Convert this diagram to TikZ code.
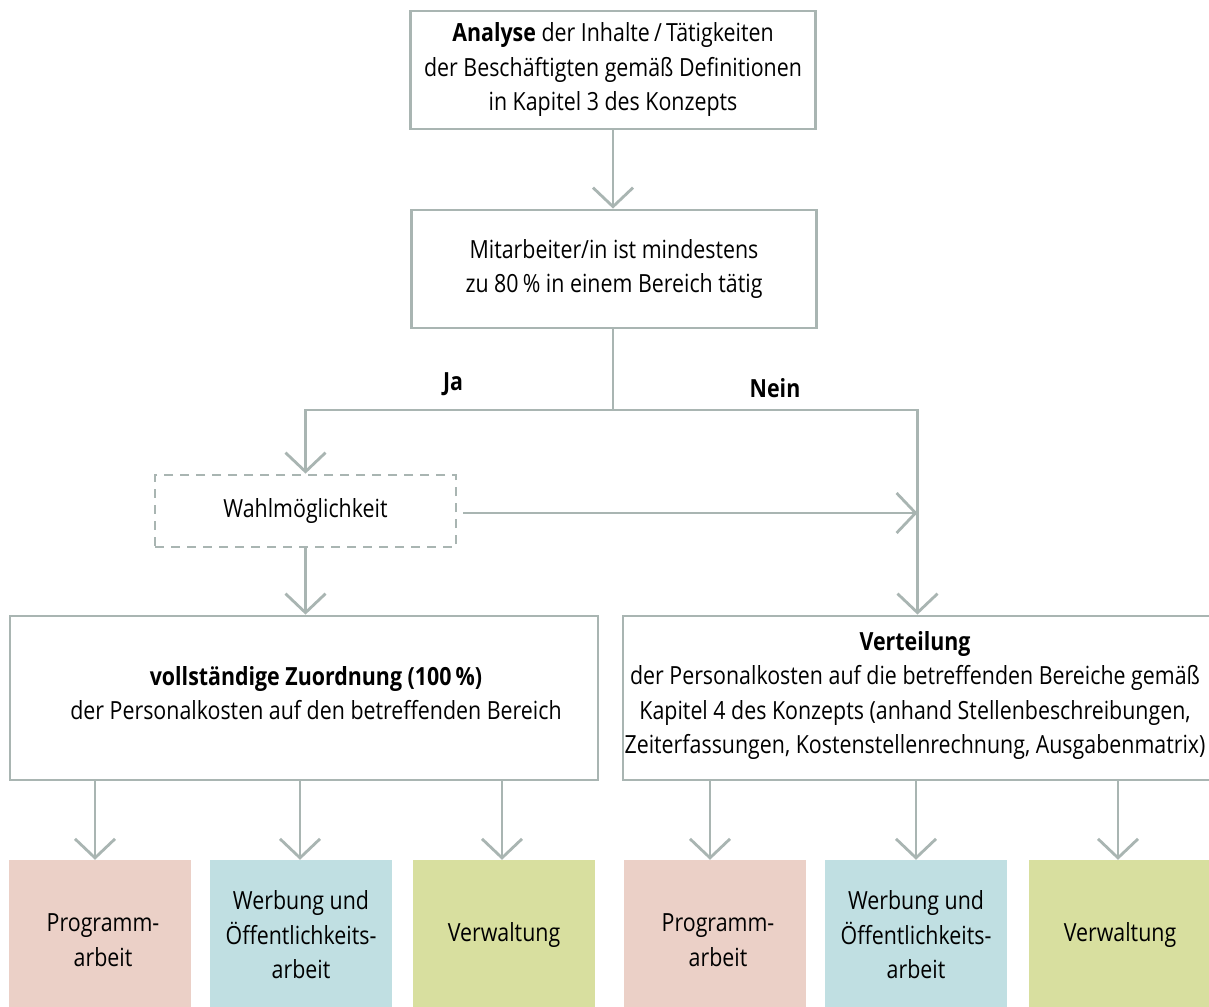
\documentclass[tikz,border=0pt]{standalone}
\usepackage{fontspec}
\setmainfont[FakeStretch=0.855]{Open Sans}
\usetikzlibrary{arrows.meta}
\definecolor{lg}{HTML}{A9B5B2}
\definecolor{cpink}{HTML}{EBD0C7}
\definecolor{cblue}{HTML}{C0DFE2}
\definecolor{cgreen}{HTML}{D8DF9F}
\tikzset{
  box/.style={draw=lg, line width=2.8pt, fill=white, inner sep=0pt, align=center},
  dbox/.style={draw=lg, line width=2.8pt, dash pattern=on 9pt off 7pt, inner sep=0pt, align=center},
  cat/.style={inner sep=0pt, align=center, minimum width=182pt, minimum height=150pt},
  conn/.style={draw=lg, line width=2.8pt},
  arr/.style={draw=lg, line width=2.8pt, -{Straight Barb[length=19pt,width=40pt,line width=2.8pt]}},
  txt/.style={inner sep=0pt, align=center},
}
\begin{document}
\begin{tikzpicture}[x=1pt,y=-1pt, font=\fontsize{25}{34.5}\selectfont]
\useasboundingbox (0,0) rectangle (1209,1006);
\clip (0,0) rectangle (1209,1006);
\fill[white] (0,0) rectangle (1209,1006);

% top boxes
\node[box, minimum width=405pt, minimum height=118pt] (b1) at (613,70)
  {\textbf{Analyse} der Inhalte\,/\,Tätigkeiten\\der Beschäftigten gemäß Definitionen\\in Kapitel 3 des Konzepts};
\node[box, minimum width=405pt, minimum height=118pt] (b2) at (614,269)
  {Mitarbeiter/in ist mindestens\\zu 80\,\% in einem Bereich tätig};

% decision split
\coordinate (split) at (613,410);
\node[txt, font=\fontsize{25}{34.5}\selectfont\bfseries] (ja) at (453,384) {Ja};
\node[txt, font=\fontsize{25}{34.5}\selectfont\bfseries] (nein) at (775,388) {Nein};

% Wahlmöglichkeit
\node[dbox, minimum width=301pt, minimum height=72pt] (wahl) at (305.5,511) {Wahlmöglichkeit};

% big boxes
\node[box, minimum width=588pt, minimum height=164pt] (voll) at (304,698) {};
\node[txt] (vollt) at (316,693) {\textbf{vollständige Zuordnung (100\,\%)}\\der Personalkosten auf den betreffenden Bereich};
\node[box, minimum width=589pt, minimum height=164pt] (vert) at (917.5,698) {};
\node[txt] (vertt) at (915,695.5) {\textbf{Verteilung}\\der Personalkosten auf die betreffenden Bereiche gemäß\\Kapitel 4 des Konzepts (anhand Stellenbeschreibungen,\\Zeiterfassungen, Kostenstellenrechnung, Ausgabenmatrix)};

% joint on right vertical
\coordinate (join) at (917.5,513);
\coordinate (wstart) at (463,513);

% category boxes
\node[cat, fill=cpink] (p1) at (100,935) {};
\node[txt] (p1t) at (103,940) {Programm-\\arbeit};
\node[cat, fill=cblue] (w1) at (301,935) {Werbung und\\Öffentlichkeits-\\arbeit};
\node[cat, fill=cgreen] (v1) at (504,935) {Verwaltung};
\node[cat, fill=cpink] (p2) at (715,935) {};
\node[txt] (p2t) at (718,940) {Programm-\\arbeit};
\node[cat, fill=cblue] (w2) at (916,935) {Werbung und\\Öffentlichkeits-\\arbeit};
\node[cat, fill=cgreen] (v2) at (1120,935) {Verwaltung};

% connectors
\draw[arr] (b1.south) -- (b1.south |- b2.north);
\draw[conn] (b2.south -| split) -- (split);
\draw[arr] (split) -| (wahl.north);
\draw[arr] (split) -| (vert.north);
\draw[arr] (wstart) -- (join);
\draw[arr] (wahl.south) -- (wahl.south |- voll.north);

\draw[arr] (voll.south -| 95,0) -- (p1.north -| 95,0);
\draw[arr] (voll.south -| 300,0) -- (w1.north -| 300,0);
\draw[arr] (voll.south -| 502,0) -- (v1.north -| 502,0);
\draw[arr] (vert.south -| 710,0) -- (p2.north -| 710,0);
\draw[arr] (vert.south -| 916,0) -- (w2.north -| 916,0);
\draw[arr] (vert.south -| 1118,0) -- (v2.north -| 1118,0);
\end{tikzpicture}
\end{document}
